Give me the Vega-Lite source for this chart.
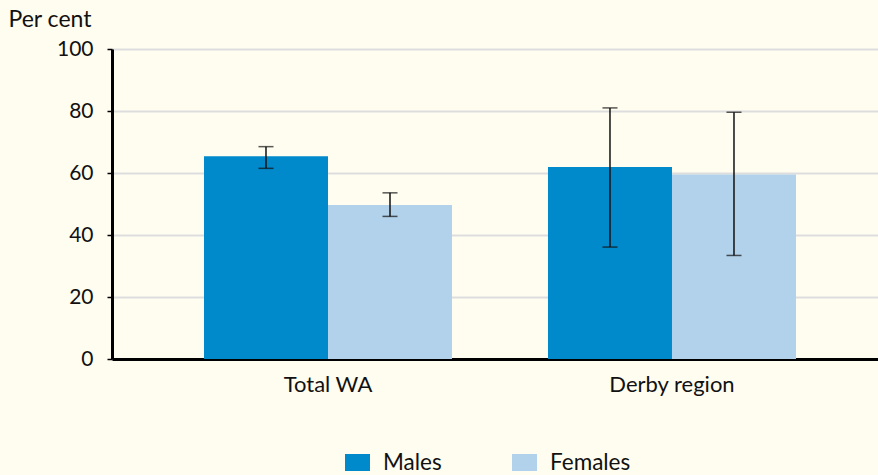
{
  "$schema": "https://vega.github.io/schema/vega-lite/v6.json",
  "autosize": "none",
  "padding": {"left": 112, "top": 49, "right": 0, "bottom": 116},
  "width": 766,
  "height": 310,
  "background": "#FFFDF0",
  "config": {
    "view": {"stroke": null},
    "font": "Lato",
    "axis": {"labelFont": "Lato", "titleFont": "Lato", "labelColor": "#111111", "titleColor": "#111111"},
    "legend": {"labelFont": "Lato"}
  },
  "data": {
    "values": [
      {"region": "Total WA", "sex": "Males", "value": 65.4, "lo": 61.5, "hi": 68.5},
      {"region": "Total WA", "sex": "Females", "value": 49.7, "lo": 46.0, "hi": 53.6},
      {"region": "Derby region", "sex": "Males", "value": 61.9, "lo": 36.1, "hi": 81.0},
      {"region": "Derby region", "sex": "Females", "value": 59.5, "lo": 33.4, "hi": 79.6}
    ]
  },
  "encoding": {
    "x": {
      "field": "region", "type": "nominal", "sort": ["Total WA", "Derby region"],
      "scale": {"paddingInner": 0, "paddingOuter": 0.1134, "align": 0.564},
      "axis": {"title": null, "labelAngle": 0, "ticks": false, "labelFontSize": 22, "labelPadding": 15, "labelDx": -6, "domainColor": "#000000", "domainWidth": 3, "grid": false}
    },
    "xOffset": {"field": "sex", "type": "nominal", "sort": ["Males", "Females"], "scale": {"paddingInner": 0, "paddingOuter": 0.387}}
  },
  "layer": [
    {
      "mark": {"type": "bar"},
      "encoding": {
        "y": {
          "field": "value", "type": "quantitative",
          "scale": {"domain": [0, 100]},
          "axis": {
            "title": "Per cent", "titleAngle": 0, "titleAlign": "left", "titleBaseline": "alphabetic",
            "titleX": -104, "titleY": -23, "titleFontSize": 23, "titleFontWeight": "normal",
            "values": [0, 20, 40, 60, 80, 100], "labelFontSize": 21, "labelPadding": 14,
            "tickSize": 5, "tickColor": "#000000", "tickWidth": 1.5,
            "domainColor": "#000000", "domainWidth": 3,
            "gridColor": "#DDDDDD", "gridWidth": 2
          }
        },
        "color": {
          "field": "sex", "type": "nominal", "sort": ["Males", "Females"],
          "scale": {"domain": ["Males", "Females"], "range": ["#0089CB", "#B2D1EA"]},
          "legend": {
            "title": null, "orient": "none", "direction": "horizontal",
            "legendX": 233, "legendY": 401, "padding": 0,
            "symbolType": "M-1,-0.68H1V0.68H-1Z", "symbolSize": 625, "symbolStrokeWidth": 0,
            "labelFontSize": 22.5, "labelOffset": 13, "columnPadding": 70, "labelColor": "#111111"
          }
        }
      }
    },
    {
      "mark": {"type": "rule", "color": "#111111", "strokeWidth": 1.5},
      "encoding": {"y": {"field": "lo", "type": "quantitative"}, "y2": {"field": "hi"}}
    },
    {
      "mark": {"type": "tick", "color": "#111111", "thickness": 1.5, "size": 15},
      "encoding": {"y": {"field": "hi", "type": "quantitative"}}
    },
    {
      "mark": {"type": "tick", "color": "#111111", "thickness": 1.5, "size": 15},
      "encoding": {"y": {"field": "lo", "type": "quantitative"}}
    }
  ]
}
